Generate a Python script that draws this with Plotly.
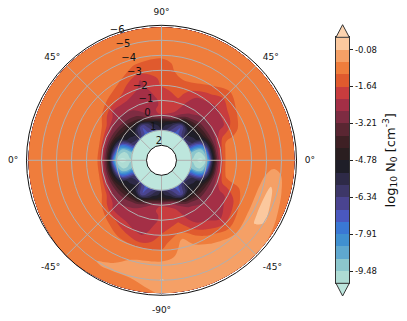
import numpy as np
import plotly.graph_objects as go

# radial positions (axis units, 2 inner to -6 outer); last entry comes from edge_rho per angle
rho = [2, 1.07, 0.93, 0.67, 0.4, 0.13, -0.13, -0.4, -0.67, -1, -1.33, -1.67, -2, -2.5, -3, -3.5, -4, -4.5, -5, -5.5, -5.87]
theta = [0, 15, 30, 45, 60, 75, 90, 105, 120, 135, 150, 165, 180, 195, 210, 225, 240, 255, 270, 285, 300, 315, 330, 345, 360]
edge_rho = [-5.87,-5.87,-5.87,-5.87,-5.87,-5.87,-5.87,-5.87,-5.89,-5.91,-5.89,-5.87,-5.87,-5.87,-5.93,-6,-5.93,-5.89,-5.87,-5.87,-5.87,-5.87,-5.87,-5.87,-5.87]
radial_ticks = [2,1,0,-1,-2,-3,-4,-5,-6]
radial_text = ["2","1","0","\u22121","\u22122","\u22123","\u22124","\u22125","\u22126"]

T = -11
O = -0.85
a000 = [T,T,-9.6,-10,-10.2,-9.9,-8.5,-5.5,-3.5,-1.9,-.95,O,O,O,O,O,O,O,O,O,O]
a015 = [T,T,-8.9,-9.3,-9.3,-8.7,-6.5,-4.8,-3.2,-2,-1.2,-.9,O,O,O,O,O,O,O,O,O]
a030 = [T,T,-6.2,-5.8,-5.5,-5,-4.6,-3.8,-3,-2.6,-2.4,-2.3,-2,-1.4,-1,O,O,O,O,O,O]
a045 = [T,T,-6,-5.4,-5,-4.8,-4.3,-3.6,-3,-2.7,-2.6,-2.5,-2.25,-1.95,-1.5,-1.1,-.9,O,O,O,O]
a060 = [T,T,-7.1,-7,-6.8,-5.2,-4,-3,-2.6,-2.5,-2.5,-2.3,-2,-1.4,-1,O,O,O,O,O,O]
a075 = [T,T,-6.3,-5.8,-5,-3.2,-2.4,-2.1,-2,-1.9,-1.6,-1.45,-1.3,-1.15,-.9,O,O,O,O,O,O]
a090 = [T,T,-5.3,-5,-4.5,-3,-2,-2,-2.1,-2.1,-2,-1.8,-1.6,-1.5,-1.4,-1.3,-1,-.9,O,O,O]
a105 = [T,T,-6.3,-5.8,-5.2,-3.5,-2.7,-2.4,-2.4,-2.4,-2.4,-2.4,-2.3,-2.2,-1.6,-1.2,-.9,O,O,O,O]
a120 = [T,T,-7.1,-7,-6.8,-5,-3.8,-3.2,-2.8,-2.6,-2.4,-2.1,-1.8,-1.4,-1,O,O,O,O,O,O]
a135 = [T,T,-6,-5.4,-5,-4.8,-4.3,-3.6,-3,-2.7,-2.4,-2.1,-1.4,-.95,O,O,O,O,O,O,O]
a150 = [T,T,-6.2,-5.8,-5.5,-5,-4.6,-4,-3.2,-2.4,-1.5,-1,O,O,O,O,O,O,O,O,O]
a165 = [T,T,-8.9,-9.3,-9.3,-8.7,-6.5,-4.8,-3.5,-2,-1,O,O,O,O,O,O,O,O,O,O]
a180 = [T,T,-9.6,-10,-10.2,-10,-8.6,-5.6,-3.6,-1.9,-.95,O,O,O,O,O,O,O,O,O,O]
a195 = [T,T,-8.9,-9.3,-9.3,-8.7,-6.5,-4.8,-3.5,-2,-1,O,O,O,O,O,O,O,O,O,O]
a210 = [T,T,-6.2,-5.8,-5.5,-5,-4.6,-4,-3.2,-2.4,-1.5,-1,O,O,O,O,O,O,O,O,O]
a225 = [T,T,-6,-5.4,-5,-4.8,-4.3,-3.6,-3,-2.7,-2.4,-2.1,-1.4,-.95,O,O,O,O,O,O,O]
a240 = [T,T,-7.1,-7,-6.8,-5.2,-4,-3,-2.7,-2.6,-2.5,-2.2,-2,-1.4,-1,-.85,-.8,-.7,-.55,-.8,O]
a255 = [T,T,-6.3,-5.8,-5,-3.5,-2.7,-2.4,-2.4,-2.4,-2.4,-2.4,-2.3,-1.9,-1.1,-.75,-.55,-.45,-.55,-.8,-.9]
a270 = [T,T,-5.3,-5,-4.5,-3,-2,-2,-2.1,-2.1,-2,-1.8,-1.6,-1.4,-1.1,-.8,-.4,-.3,-.05,-.4,-.55]
a285 = [T,T,-6.3,-5.8,-5,-3.2,-2.4,-2.1,-2,-1.9,-1.6,-1.3,-1.1,-.5,-.4,-.4,-.4,-.4,-.4,-.4,-.5]
a300 = [T,T,-7.1,-7,-6.8,-5.2,-4,-3,-2.6,-2.5,-2.5,-2.3,-2,-1.5,-.9,-.55,-.4,-.4,-.4,-.4,-.4]
a315 = [T,T,-6,-5.4,-5,-4.8,-4.3,-3.6,-3,-2.7,-2.6,-2.5,-2.4,-2.2,-1.6,-1,-.55,-.4,-.35,-.35,-.4]
a330 = [T,T,-6.2,-5.8,-5.5,-5,-4.6,-3.8,-3,-2.6,-2.4,-2.3,-2.1,-1.7,-1.1,-.85,-.3,.05,-.05,-.45,-.8]
a345 = [T,T,-8.9,-9.3,-9.3,-8.7,-6.5,-4.8,-3.2,-2,-1.2,-1,-.9,O,O,-.8,-.4,0,-.3,-.85,O]
z_rows = [a000,a015,a030,a045,a060,a075,a090,a105,a120,a135,a150,a165,a180,a195,a210,a225,a240,a255,a270,a285,a300,a315,a330,a345,a000]

band_colors = ["#bde6dd","#aedcd4","#8cc7cd","#5fa8cf","#4090d0","#3a78d4","#4a58bf","#4a4490","#3d3768","#2e2a47",
               "#1f1e28","#2a1e20","#3e2024","#5a2632","#7e2c42","#a42f46","#c83c3e","#e05a2e","#ef7d3c","#f5a066","#fbc89e","#fdd4b0"]
tick_vals = [-9.48,-7.91,-6.34,-4.78,-3.21,-1.64,-0.08]
tick_text = ["-9.48","-7.91","-6.34","-4.78","-3.21","-1.64","-0.08"]
LOW, HIGH, STEP = -10.0, 0.44, 0.522
levels = [LOW + STEP*i for i in range(21)]

# the page adds an 8 px body margin, so the figure is drawn 8 px smaller and offset coordinates below
M = 8
W, H = 407-M, 321-M
cx, cy, R = 161.5-M, 160.3-M, 135
dom_x = [(cx-R)/W, (cx+R)/W]
dom_y = [1-(cy+R)/H, 1-(cy-R)/H]
bx0, bx1, bxm = (336-M)/W, (349.3-M)/W, (342.6-M)/W
by_top, by_bot = 1-(37.3-M)/H, 1-(283.3-M)/H
tip_top, tip_bot = 1-(24.7-M)/H, 1-(296-M)/H

th = np.deg2rad(np.array(theta, float))
rho_grid = np.tile(np.array(rho, float), (len(theta), 1))
rho_grid[:, -1] = edge_rho
rr = 3 - rho_grid   # 1..9 => hole radius .. outer
X = rr * np.cos(th)[:, None]
Y = rr * np.sin(th)[:, None]
A, B = np.meshgrid(rho, theta)

n = len(band_colors)
zmin, zmax = LOW-STEP, HIGH+STEP
scale = []
for i, c in enumerate(band_colors):
    scale += [[i/n, c], [(i+1)/n, c]]

fig = go.Figure()
fig.add_trace(go.Carpet(a=A.ravel(), b=B.ravel(), x=X.ravel(), y=Y.ravel(),
    aaxis=dict(showgrid=False, showline=False, showticklabels="none", startline=False, endline=False, minorgridcount=0),
    baxis=dict(showgrid=False, showline=False, showticklabels="none", startline=False, endline=False, minorgridcount=0),
    carpet="c1", xaxis="x", yaxis="y"))
fig.add_trace(go.Contourcarpet(a=A.ravel(), b=B.ravel(), z=np.array(z_rows, float).ravel(), carpet="c1",
    autocontour=False, contours=dict(start=LOW, end=HIGH, size=STEP, coloring="fill", showlines=False),
    line=dict(width=0), colorscale=scale, zmin=zmin, zmax=zmax, showscale=False))
# colour bar as its own small axis
mids = [[(levels[i]+levels[i+1])/2] for i in range(20)]
fig.add_trace(go.Heatmap(x=[0,1], y=levels, z=mids, colorscale=scale, zmin=zmin, zmax=zmax, showscale=False,
    xaxis="x2", yaxis="y2", hoverinfo="skip"))
fig.add_trace(go.Scatterpolar(r=radial_ticks, theta=[112.5]*len(radial_ticks), mode="text", text=radial_text,
    textposition="top right", textfont=dict(family="DejaVu Sans", size=10, color="#111"), hoverinfo="skip", showlegend=False))

fig.update_layout(width=W, height=H, margin=dict(l=0,r=0,t=0,b=0), paper_bgcolor="white", plot_bgcolor="rgba(0,0,0,0)",
    showlegend=False,
    xaxis=dict(domain=dom_x, range=[-9,9], visible=False, fixedrange=True),
    yaxis=dict(domain=dom_y, range=[-9,9], visible=False, fixedrange=True),
    xaxis2=dict(domain=[bx0,bx1], range=[0,1], anchor="y2", showticklabels=False, ticks="", showgrid=False, zeroline=False,
        showline=True, mirror=True, linecolor="#333", linewidth=1),
    yaxis2=dict(domain=[by_bot,by_top], range=[LOW,HIGH], anchor="x2", side="right", showgrid=False, zeroline=False,
        showline=True, mirror=True, linecolor="#333", linewidth=1,
        tickmode="array", tickvals=tick_vals, ticktext=tick_text, ticks="outside", ticklen=3, tickcolor="#222",
        tickfont=dict(family="DejaVu Sans", size=8.5, color="#111"),
        title=dict(text="log<sub>10</sub> N<sub>0</sub> [cm<sup>-3</sup>]", standoff=9,
                   font=dict(family="DejaVu Sans", size=13, color="#111"))),
    polar=dict(domain=dict(x=dom_x, y=dom_y), hole=1/9, bgcolor="rgba(0,0,0,0)",
        radialaxis=dict(range=[2,-6], tickvals=radial_ticks, angle=112.5, showticklabels=False, showline=False, ticks="",
            gridcolor="#b0b0b0", gridwidth=1),
        angularaxis=dict(tickmode="array", tickvals=[0,45,90,135,180,225,270,315],
            ticktext=["0°","45°","90°","45°","0°","-45°","-90°","-45°"], ticks="outside", ticklen=6, tickcolor="rgba(0,0,0,0)",
            showline=True, linecolor="#111", linewidth=1,
            gridcolor="#b0b0b0", gridwidth=1, tickfont=dict(family="DejaVu Sans", size=9, color="#111"))),
    shapes=[
        dict(type="path", xref="paper", yref="paper", path=f"M {bx0} {by_top} L {bxm} {tip_top} L {bx1} {by_top} Z", fillcolor=band_colors[-1], line=dict(color="#333",width=1)),
        dict(type="path", xref="paper", yref="paper", path=f"M {bx0} {by_bot} L {bxm} {tip_bot} L {bx1} {by_bot} Z", fillcolor=band_colors[0], line=dict(color="#333",width=1)),
    ])
fig.write_html("out.html")
